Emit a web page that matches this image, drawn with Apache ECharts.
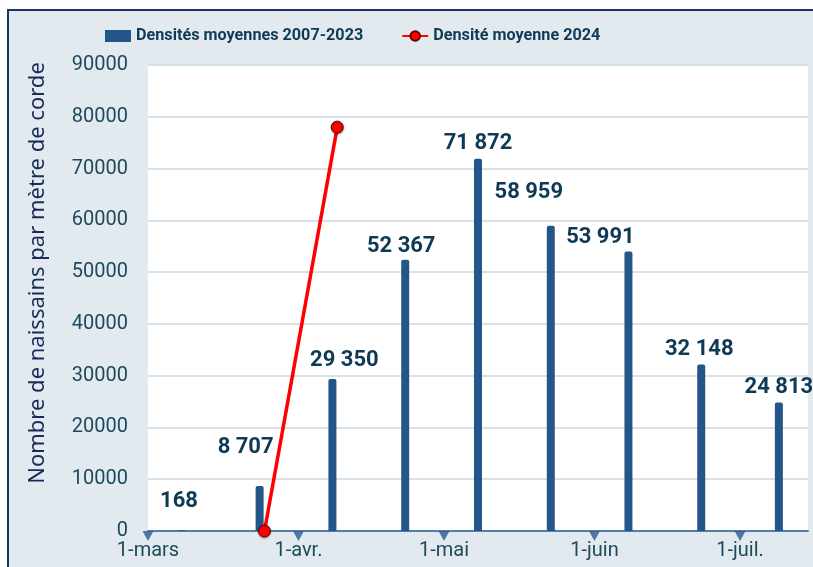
<!DOCTYPE html>
<html>
<head>
<meta charset="utf-8">
<script src="https://cdn.jsdelivr.net/npm/echarts@6/dist/echarts.min.js"></script>
<style>
html,body{margin:0;padding:0;background:#fff;overflow:hidden;}
#wrap{position:relative;width:813px;height:567px;overflow:hidden;background:#fff;}
#frame{position:absolute;left:7px;top:9px;width:1000px;height:800px;background:#e2eaf0;border-top:2px solid #1a3563;border-left:2px solid #1a3563;}
#chart{position:absolute;left:0;top:0;width:813px;height:567px;}
</style>
</head>
<body>
<div id="wrap"><div id="frame"></div><div id="chart"></div></div>
<script>
// ---- data ----
const barDates = ['2024-03-08','2024-03-24','2024-04-08','2024-04-23','2024-05-08','2024-05-23','2024-06-08','2024-06-23','2024-07-09'];
const barValues = [168, 8707, 29350, 52367, 71872, 58959, 53991, 32148, 24813];
const lineDates = ['2024-03-25','2024-04-09'];
const lineValues = [0, 78000];
const tickDates = ['2024-03-01','2024-04-01','2024-05-01','2024-06-01','2024-07-01'];
const tickLabels = ['1-mars','1-avr.','1-mai','1-juin','1-juil.'];
const barName = 'Densités moyennes 2007-2023';
const lineName = 'Densité moyenne 2024';
const yTitle = 'Nombre de naissains par mètre de corde';

// ---- label placement (style only) ----
const labelOffsets = [[-3,-14],[-14,-23],[12,-4],[-4,2],[0,0],[-22,-18],[-28,1],[-2,0],[0,0]];

const ts = d => Date.UTC(+d.slice(0,4), +d.slice(5,7) - 1, +d.slice(8,10));
const tickTs = tickDates.map(ts);
const fmt = v => String(v).replace(/\B(?=(\d{3})+(?!\d))/g, ' ');

const chart = echarts.init(document.getElementById('chart'), null, {renderer:'canvas'});
const FONT = 'Roboto';
chart.setOption({
  animation: false,
  backgroundColor: 'transparent',
  textStyle: {fontFamily: FONT},
  legend: {
    data: [{name: barName, icon: 'rect'}, {name: lineName}],
    left: 100, top: 23,
    itemWidth: 26, itemHeight: 12, itemGap: 38,
    textStyle: {fontFamily: FONT, fontSize: 16.2, fontWeight: 'bold', color: '#0f3a55'}
  },
  grid: {left: 148, right: 5, top: 65, bottom: 36, show: true, backgroundColor: '#ffffff', borderWidth: 0},
  xAxis: {
    type: 'value',
    min: ts('2024-03-01'), max: ts('2024-07-15'),
    axisLine: {lineStyle: {color: '#4f7fae', width: 2}},
    axisTick: {show: false},
    splitLine: {show: false},
    axisLabel: {
      customValues: tickTs,
      margin: 10,
      fontFamily: FONT, fontSize: 20, color: '#1d4a5c',
      formatter: v => { const i = tickTs.indexOf(v); return i >= 0 ? tickLabels[i] : ''; }
    }
  },
  yAxis: {
    type: 'value', min: 0, max: 90000, interval: 10000,
    axisLine: {show: false}, axisTick: {show: false},
    splitLine: {lineStyle: {color: '#c9d9e3', width: 1.5}},
    axisLabel: {margin: 20, fontFamily: FONT, fontSize: 20, color: '#1d4a5c', formatter: v => String(v)}
  },
  graphic: [{
    type: 'text', x: 38, y: 273, rotation: Math.PI / 2,
    style: {text: yTitle, fontFamily: "'Noto Sans'", fontSize: 22, fill: '#1a2a5a', align: 'center', verticalAlign: 'middle'}
  }],
  series: [
    {
      name: barName, type: 'bar', barWidth: 8,
      itemStyle: {color: '#245689', borderRadius: [2,2,0,0]},
      label: {show: true, position: 'top', distance: 4, fontFamily: FONT, fontSize: 22, fontWeight: 'bold', color: '#0f3a55',
        formatter: p => fmt(p.value[1])},
      data: barDates.map((d, i) => ({value: [ts(d), barValues[i]], label: {offset: labelOffsets[i]}})),
      z: 2
    },
    {
      name: 'ticks', type: 'scatter', symbol: 'triangle', symbolSize: [11, 10], symbolRotate: 180, symbolOffset: [0, 5],
      itemStyle: {color: '#2a5a8c'}, silent: true, clip: false, z: 3,
      data: tickTs.map(t => [t, 0])
    },
    {
      name: lineName, type: 'line', clip: false, z: 5,
      lineStyle: {color: '#ff0000', width: 3.5},
      symbol: 'circle', symbolSize: 12,
      itemStyle: {color: '#ff0000', borderColor: '#6a0000', borderWidth: 1, shadowColor: 'rgba(0,0,0,0.35)', shadowBlur: 2, shadowOffsetY: 1},
      data: lineDates.map((d, i) => [ts(d), lineValues[i]])
    }
  ]
});
</script>
</body>
</html>
